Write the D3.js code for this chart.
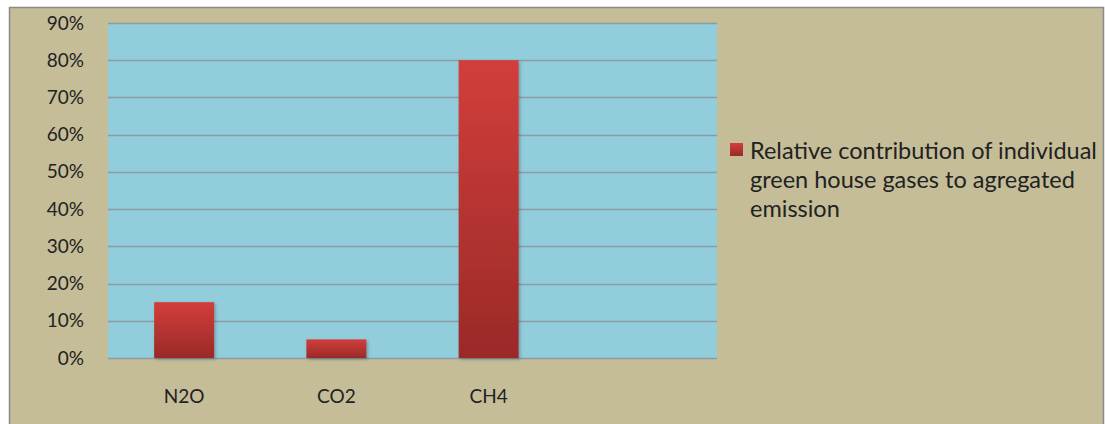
<!DOCTYPE html>
<html>
<head>
<meta charset="utf-8">
<script src="https://cdn.jsdelivr.net/npm/d3@7"></script>
<style>
  html, body { margin: 0; padding: 0; background: #fff; }
  svg { display: block; }
</style>
</head>
<body>
<svg id="chart"></svg>
<script>
// data
const categories = ['N2O', 'CO2', 'CH4'];
const values = [0.15, 0.05, 0.80];
const yTicks = [0, 0.1, 0.2, 0.3, 0.4, 0.5, 0.6, 0.7, 0.8, 0.9];
const legendLines = ['Relative contribution of individual', 'green house gases to agregated', 'emission'];

const width = 1105, height = 424;
const plot = { left: 108, right: 717, top: 23, bottom: 358 };
const font = 'Lato, "Open Sans", sans-serif';

const svg = d3.select('#chart').attr('width', width).attr('height', height);

const defs = svg.append('defs');
const grad = defs.append('linearGradient')
  .attr('id', 'barGrad').attr('x1', 0).attr('y1', 0).attr('x2', 0).attr('y2', 1);
grad.append('stop').attr('offset', '0%').attr('stop-color', '#d23e3b');
grad.append('stop').attr('offset', '100%').attr('stop-color', '#9a2a28');

const shadow = defs.append('filter').attr('id', 'shadow')
  .attr('x', '-20%').attr('y', '-20%').attr('width', '140%').attr('height', '140%');
shadow.append('feDropShadow').attr('dx', 1.5).attr('dy', 1.5).attr('stdDeviation', 1.5)
  .attr('flood-color', '#000').attr('flood-opacity', 0.25);

// chart background + border
svg.append('rect')
  .attr('x', 9.5).attr('y', 7.5).attr('width', width - 11).attr('height', height - 6)
  .attr('fill', '#c4bd97').attr('stroke', '#8a8a8a').attr('stroke-width', 1.5);

// one empty slot after CH4, as in the original
const x = d3.scaleBand()
  .domain([...categories, ''])
  .range([plot.left, plot.right])
  .paddingInner(0.606)
  .paddingOuter(0.303);

const y = d3.scaleLinear().domain([0, 0.9]).range([plot.bottom, plot.top]);

svg.append('rect')
  .attr('x', plot.left).attr('y', plot.top)
  .attr('width', plot.right - plot.left).attr('height', plot.bottom - plot.top)
  .attr('fill', '#92cddc');

// gridlines
svg.append('g')
  .selectAll('line')
  .data(yTicks)
  .join('line')
  .attr('x1', plot.left).attr('x2', plot.right)
  .attr('y1', d => Math.round(y(d)) + 0.5).attr('y2', d => Math.round(y(d)) + 0.5)
  .attr('stroke', '#8a9da5').attr('stroke-width', 1.5);

// y axis
const yAxis = svg.append('g')
  .attr('transform', `translate(${plot.left},0)`)
  .call(d3.axisLeft(y).tickValues(yTicks).tickFormat(d3.format('.0%')).tickSize(0).tickPadding(24));
yAxis.select('.domain').remove();
yAxis.selectAll('text')
  .attr('font-family', font).attr('font-size', 19).attr('fill', '#222');

// x axis
const xAxis = svg.append('g')
  .attr('transform', `translate(0,${plot.bottom})`)
  .call(d3.axisBottom(x).tickSize(0).tickPadding(32));
xAxis.select('.domain').remove();
xAxis.selectAll('text')
  .attr('font-family', font).attr('font-size', 19).attr('fill', '#222');

// bars
svg.append('g')
  .selectAll('rect')
  .data(values)
  .join('rect')
  .attr('x', (d, i) => x(categories[i]))
  .attr('y', d => y(d))
  .attr('width', x.bandwidth())
  .attr('height', d => y(0) - y(d))
  .attr('fill', 'url(#barGrad)')
  .attr('filter', 'url(#shadow)');

// legend
const legend = svg.append('g').attr('transform', 'translate(730,143)');
legend.append('rect').attr('width', 13).attr('height', 13).attr('fill', 'url(#barGrad)');
legend.selectAll('text')
  .data(legendLines)
  .join('text')
  .attr('x', 20)
  .attr('y', (d, i) => 16 + i * 29)
  .attr('font-family', font).attr('font-size', 23.5).attr('fill', '#222')
  .text(d => d);
</script>
</body>
</html>
